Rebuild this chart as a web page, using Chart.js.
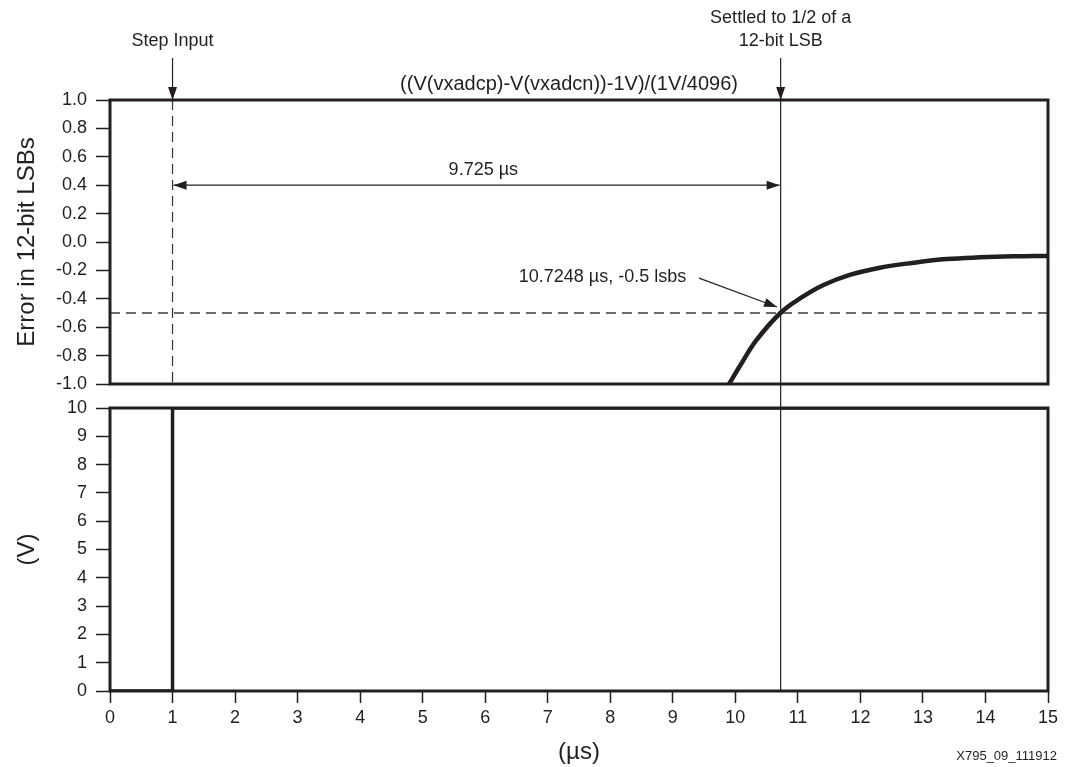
<!DOCTYPE html>
<html><head><meta charset="utf-8">
<script src="https://cdn.jsdelivr.net/npm/chart.js@4.4.0/dist/chart.umd.min.js"></script>
<style>
html,body{margin:0;padding:0;background:#fff;}
#wrap{position:relative;width:1071px;height:767px;background:#fff;}
canvas{position:absolute;left:0;top:0;}
</style></head><body>
<div id="wrap"><canvas id="c1" width="1071" height="767"></canvas><canvas id="c2" width="1071" height="767"></canvas></div>
<script>
// ---- data ----
const errTimes  = [9.90, 10.10, 10.34, 10.72, 11.04, 11.41, 11.83, 12.31, 12.85, 13.38, 13.91, 14.45, 15.0];
const errValues = [-1.0, -0.854, -0.69, -0.50, -0.396, -0.303, -0.232, -0.181, -0.146, -0.12, -0.108, -0.101, -0.098];
const stepTimes  = [0, 1, 1, 15];
const stepValues = [0, 0, 10, 10];
const xTickLabels = ['0','1','2','3','4','5','6','7','8','9','10','11','12','13','14','15'];
const errTickLabels = ['-1.0','-0.8','-0.6','-0.4','-0.2','0.0','0.2','0.4','0.6','0.8','1.0'];
const voltTickLabels = ['0','1','2','3','4','5','6','7','8','9','10'];
const stepTime = 1;
const settleTime = 10.7248;
const settleLevel = -0.5;
const spanLevel = 0.4;

const C = '#231f20';
const FONT = "'Liberation Sans', Arial, Helvetica, sans-serif";
Chart.defaults.font.family = FONT;
Chart.defaults.color = C;

function head(ctx, x, y, ang, len = 13, half = 4.5) {
  ctx.save();
  ctx.translate(x, y); ctx.rotate(ang);
  ctx.beginPath(); ctx.moveTo(0, 0); ctx.lineTo(-len, -half); ctx.lineTo(-len, half); ctx.closePath();
  ctx.fillStyle = C; ctx.fill();
  ctx.restore();
}
function arrow(ctx, x1, y1, x2, y2, both) {
  ctx.save();
  ctx.strokeStyle = C; ctx.lineWidth = 1.2; ctx.setLineDash([]);
  ctx.beginPath(); ctx.moveTo(x1, y1); ctx.lineTo(x2, y2); ctx.stroke();
  const ang = Math.atan2(y2 - y1, x2 - x1);
  head(ctx, x2, y2, ang);
  if (both) head(ctx, x1, y1, ang + Math.PI);
  ctx.restore();
}
function text(ctx, s, x, y, size, align) {
  ctx.save();
  ctx.font = size + 'px ' + FONT; ctx.fillStyle = C;
  ctx.textAlign = align || 'center'; ctx.textBaseline = 'middle';
  ctx.fillText(s, x, y);
  ctx.restore();
}

const yAfterFit = s => { s.width = 110; };

let chart1;
const topPlugin = {
  id: 'topAnn',
  beforeDatasetsDraw(chart) {
    const {ctx, chartArea: a, scales: {x, y}} = chart;
    ctx.save();
    ctx.strokeStyle = '#3a3a3a'; ctx.lineWidth = 1.3; ctx.setLineDash([10, 6]);
    const yl = y.getPixelForValue(settleLevel);
    ctx.beginPath(); ctx.moveTo(a.left, yl); ctx.lineTo(a.right, yl); ctx.stroke();
    const xs = x.getPixelForValue(stepTime);
    ctx.beginPath(); ctx.moveTo(xs, a.top); ctx.lineTo(xs, a.bottom); ctx.stroke();
    ctx.restore();
  },
  afterDraw(chart) {
    const {ctx, chartArea: a, scales: {x, y}} = chart;
    const xStep = x.getPixelForValue(stepTime);
    const xSet = x.getPixelForValue(settleTime);
    ctx.save();
    ctx.strokeStyle = C; ctx.lineWidth = 1.2;
    ctx.beginPath(); ctx.moveTo(xSet, a.top); ctx.lineTo(xSet, a.bottom); ctx.stroke();
    ctx.lineWidth = 3; ctx.strokeRect(a.left, a.top, a.right - a.left, a.bottom - a.top);
    ctx.restore();
    arrow(ctx, xStep, a.top - 42, xStep, a.top);
    arrow(ctx, xSet, a.top - 42, xSet, a.top);
    text(ctx, 'Step Input', xStep, a.top - 59, 18);
    text(ctx, 'Settled to 1/2 of a', xSet, a.top - 82, 18);
    text(ctx, '12-bit LSB', xSet, a.top - 59, 18);
    text(ctx, '((V(vxadcp)-V(vxadcn))-1V)/(1V/4096)', x.getPixelForValue(7.34), a.top - 16, 20);
    const ys = y.getPixelForValue(spanLevel);
    arrow(ctx, xStep + 1, ys, xSet - 1, ys, true);
    text(ctx, '9.725 µs', x.getPixelForValue(5.97), y.getPixelForValue(0.51), 18);
    text(ctx, '10.7248 µs, -0.5 lsbs', x.getPixelForValue(7.876), y.getPixelForValue(-0.25), 18);
    arrow(ctx, x.getPixelForValue(9.42), y.getPixelForValue(-0.254), x.getPixelForValue(10.667), y.getPixelForValue(-0.458));
  }
};

const botPlugin = {
  id: 'botAnn',
  afterDraw(chart) {
    const {ctx, chartArea: a, scales: {x}} = chart;
    const xSet = x.getPixelForValue(settleTime);
    const topY = chart1 ? chart1.chartArea.bottom : a.top;
    ctx.save();
    ctx.strokeStyle = C; ctx.lineWidth = 1.2;
    ctx.beginPath(); ctx.moveTo(xSet, topY); ctx.lineTo(xSet, a.bottom); ctx.stroke();
    ctx.lineWidth = 3; ctx.strokeRect(a.left, a.top, a.right - a.left, a.bottom - a.top);
    ctx.restore();
    text(ctx, 'X795_09_111912', a.right + 9, a.bottom + 65, 13, 'right');
  }
};

const tickFont = {size: 18};
const titleFont = {size: 24};

chart1 = new Chart(document.getElementById('c1'), {
  type: 'line',
  data: {datasets: [{
    data: errTimes.map((t, i) => ({x: t, y: errValues[i]})),
    borderColor: C, borderWidth: 4.5, pointRadius: 0, tension: 0.4, fill: false
  }]},
  options: {
    responsive: false, animation: false,
    layout: {padding: {top: 100, left: 0, right: 23, bottom: 383}},
    plugins: {legend: {display: false}, tooltip: {enabled: false}},
    scales: {
      x: {type: 'linear', min: 0, max: 15, display: false},
      y: {
        type: 'linear', min: -1, max: 1,
        afterFit: yAfterFit,
        border: {display: false},
        grid: {drawOnChartArea: false, drawTicks: true, tickLength: 14, tickColor: C, tickWidth: 1.5},
        ticks: {stepSize: 0.2, font: tickFont, color: C, padding: 9,
          callback: v => errTickLabels[Math.round((v + 1) / 0.2)]},
        title: {display: true, text: 'Error in 12-bit LSBs', font: titleFont, color: C, padding: {top: 12.5, bottom: 0}}
      }
    }
  },
  plugins: [topPlugin]
});

new Chart(document.getElementById('c2'), {
  type: 'line',
  data: {datasets: [{
    data: stepTimes.map((t, i) => ({x: t, y: stepValues[i]})),
    borderColor: C, borderWidth: 3.5, pointRadius: 0, tension: 0, fill: false
  }]},
  options: {
    responsive: false, animation: false,
    layout: {padding: {top: 408, left: 0, right: 23, bottom: 0}},
    plugins: {legend: {display: false}, tooltip: {enabled: false}},
    scales: {
      x: {
        type: 'linear', min: 0, max: 15,
        afterFit: s => { s.height = 76; },
        border: {display: false},
        grid: {drawOnChartArea: false, drawTicks: true, tickLength: 12, tickColor: C, tickWidth: 1.5},
        ticks: {stepSize: 1, font: tickFont, color: C, padding: 4, maxRotation: 0,
          callback: v => xTickLabels[Math.round(v)]},
        title: {display: true, text: '(µs)', font: titleFont, color: C, padding: {top: 0, bottom: 0}}
      },
      y: {
        type: 'linear', min: 0, max: 10,
        afterFit: yAfterFit,
        border: {display: false},
        grid: {drawOnChartArea: false, drawTicks: true, tickLength: 14, tickColor: C, tickWidth: 1.5},
        ticks: {stepSize: 1, font: tickFont, color: C, padding: 9,
          callback: v => voltTickLabels[Math.round(v)]},
        title: {display: true, text: '(V)', font: titleFont, color: C, padding: {top: 12.5, bottom: 0}}
      }
    }
  },
  plugins: [botPlugin]
});
</script>
</body></html>
